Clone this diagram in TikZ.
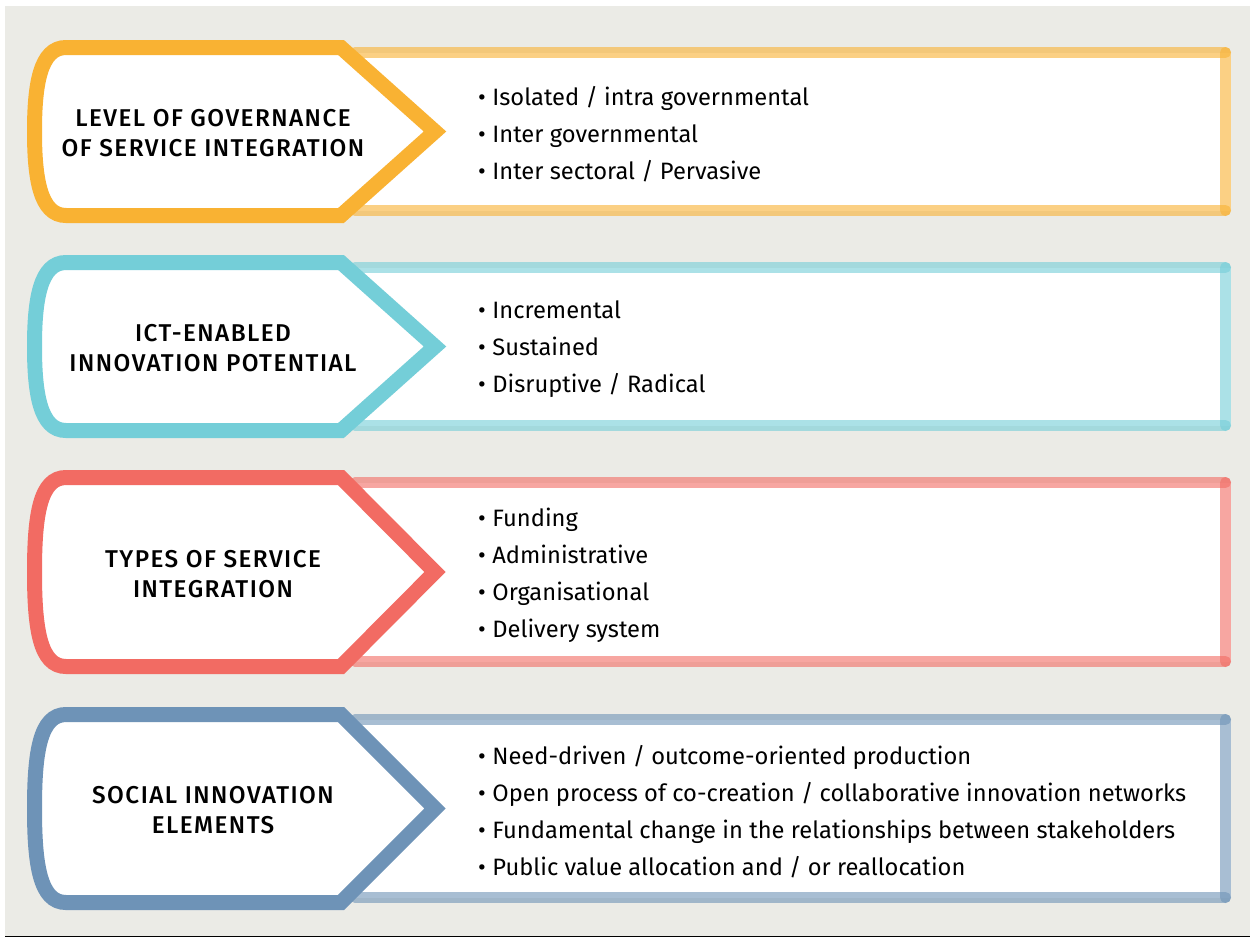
\documentclass[tikz,border=0pt]{standalone}
\usepackage{fontspec}
\setmainfont{Fira Sans}
\newfontfamily\headfont{Fira Sans}[UprightFont=* Medium, LetterSpace=6]
\definecolor{bg}{HTML}{EBEBE6}
\definecolor{cOrange}{HTML}{F9B233}
\definecolor{cTeal}{HTML}{74CED8}
\definecolor{cRed}{HTML}{F26B63}
\definecolor{cBlue}{HTML}{6E93B7}
\newcommand\bul{•\hspace{6.5pt}}
\tikzset{
  arrowbox/.style={line width=15pt, fill=white, line join=miter, draw=#1},
  band/.style={line width=11pt, draw=#1, draw opacity=0.6, line cap=round},
  heading/.style={font=\fontsize{24.3}{30}\headfont, align=center, text=black, inner sep=0pt},
  items/.style={font=\fontsize{23.7}{37}\selectfont, align=left, anchor=west, text=black, inner sep=0pt}
}
\newcommand\drawrow[6]{%
  \pgfmathsetmacro\Tc{#1+7.5}%
  \pgfmathsetmacro\Bc{#2-7.5}%
  \pgfmathsetmacro\Tb{#1+12.5}%
  \pgfmathsetmacro\Bb{#2-12.5}%
  \pgfmathsetmacro\Mc{(#1+#2)/2}%
  \pgfmathsetmacro\Mh{(#1+#2)/2+2}%
  \pgfmathsetmacro\Mi{(#1+#2)/2+3}%
  \pgfmathsetmacro\Tq{#1+45}%
  \pgfmathsetmacro\Bq{#2-45}%
  % right frame
  \fill[white] (355,\Tb) rectangle (1231,\Bb);
  \draw[band=#3] (355,\Tb) -- (1225.5,\Tb);
  \draw[band=#3] (1225.5,\Tb) -- (1225.5,\Bb);
  \draw[band=#3] (355,\Bb) -- (1225.5,\Bb);
  % left arrow
  \draw[arrowbox=#3] (341,\Tc) -- (435,\Mc) -- (341,\Bc) -- (66,\Bc)
    .. controls (40,\Bc) and (34.5,\Bq) .. (34.5,\Mc)
    .. controls (34.5,\Tq) and (40,\Tc) .. (66,\Tc) -- cycle;
  \node[heading] (#4h) at (213,\Mh) {#5};
  \node[items] (#4i) at (478,\Mi) {#6};
}
\begin{document}
\begin{tikzpicture}[x=1pt,y=-1pt]
\useasboundingbox (0,0) rectangle (1250,938);
\fill[white] (0,0) rectangle (1250,938);
\fill[bg] (5,6) rectangle (1250,936);
\draw[black, line width=1.6pt] (5,936.5) -- (1250,936.5);
\drawrow{40}{223}{cOrange}{r1}{LEVEL OF GOVERNANCE\\OF SERVICE INTEGRATION}{\bul Isolated / intra governmental\\\bul Inter governmental\\\bul Inter sectoral / Pervasive}
\drawrow{255}{438}{cTeal}{r2}{ICT-ENABLED\\INNOVATION POTENTIAL}{\bul Incremental\\\bul Sustained\\\bul Disruptive / Radical}
\drawrow{470}{674}{cRed}{r3}{TYPES OF SERVICE\\INTEGRATION}{\bul Funding\\\bul Administrative\\\bul Organisational\\\bul Delivery system}
\drawrow{707}{910}{cBlue}{r4}{SOCIAL INNOVATION\\ELEMENTS}{\bul Need-driven / outcome-oriented production\\\bul Open process of co-creation / collaborative innovation networks\\\bul Fundamental change in the relationships between stakeholders\\\bul Public value allocation and / or reallocation}
\end{tikzpicture}
\end{document}
